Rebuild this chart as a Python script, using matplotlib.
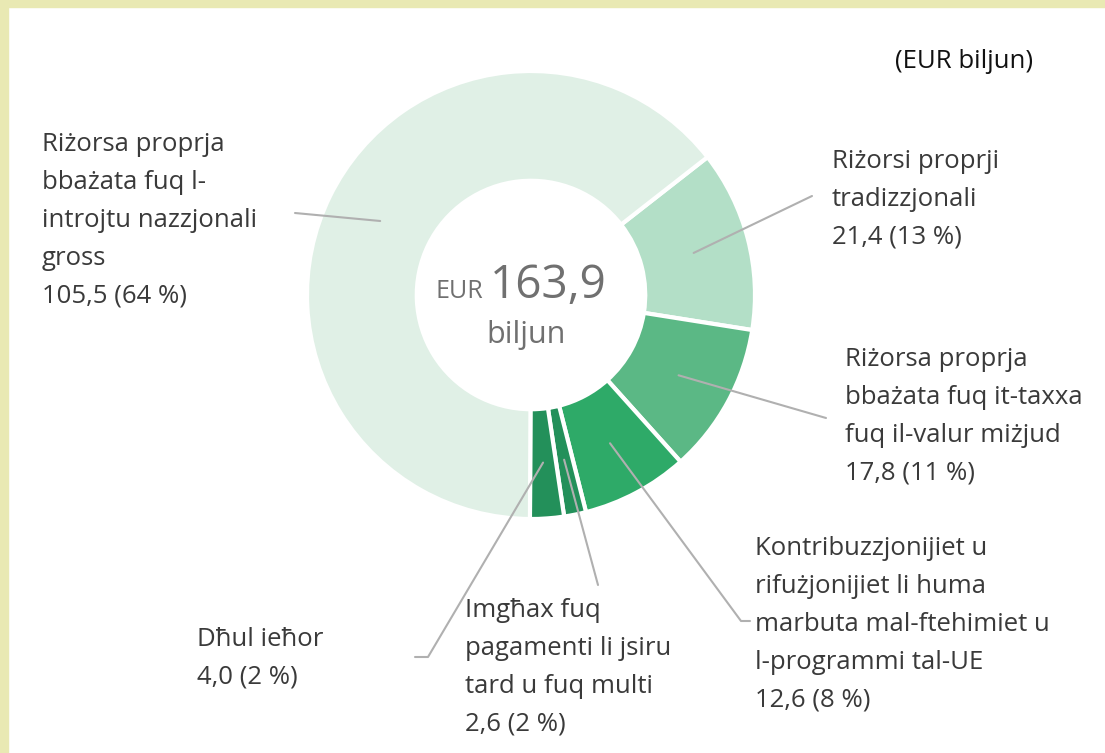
import numpy as np
import matplotlib
matplotlib.use("Agg")
import matplotlib.pyplot as plt
from matplotlib.patches import Rectangle

plt.rcParams['font.family'] = ['Open Sans', 'DejaVu Sans']

# data (EUR billion)
labels = [
    "Riżorsi proprji\ntradizzjonali\n21,4 (13 %)",
    "Riżorsa proprja\nbbażata fuq it-taxxa\nfuq il-valur miżjud\n17,8 (11 %)",
    "Kontribuzzjonijiet u\nrifużjonijiet li huma\nmarbuta mal-ftehimiet u\nl-programmi tal-UE\n12,6 (8 %)",
    "Imgħax fuq\npagamenti li jsiru\ntard u fuq multi\n2,6 (2 %)",
    "Dħul ieħor\n4,0 (2 %)",
    "Riżorsa proprja\nbbażata fuq l-\nintrojtu nazzjonali\ngross\n105,5 (64 %)",
]
values = [21.4, 17.8, 12.6, 2.6, 4.0, 105.5]
colors = ["#b3dfc7", "#5bb885", "#2eaa68", "#23905a", "#23905a", "#e0f0e6"]
total_text = "163,9"

W, H = 1105, 753
cx, cy, R = 531, 295, 224

fig = plt.figure(figsize=(W / 100, H / 100), dpi=100)

# frame bands
fig.patches.append(Rectangle((0, 1 - 7 / H), 1, 7 / H, transform=fig.transFigure,
                             color="#e9e9b3", zorder=0))
fig.patches.append(Rectangle((0, 0), 8 / W, 1, transform=fig.transFigure,
                             color="#e9e9b3", zorder=0))

ax = fig.add_axes([(cx - R) / W, (H - cy - R) / H, 2 * R / W, 2 * R / H])
wedges, _ = ax.pie(values, colors=colors, startangle=38, counterclock=False,
                   radius=1, wedgeprops=dict(width=0.49, edgecolor="white", linewidth=3))
ax.set_xlim(-1, 1)
ax.set_ylim(-1, 1)
ax.set_aspect("equal")
ax.axis("off")

def to_data(px, py):
    return (px - cx) / R, (cy - py) / R

# leader line ends (pixel coords) and text anchor positions
ends = [
    [(812, 196)],
    [(826, 418)],
    [(741, 621), (750, 621)],
    [(598, 585)],
    [(428, 657), (415, 657)],
    [(295, 213)],
]
text_pos = [(832, 149), (845, 347), (755, 536), (465, 598), (197, 627), (42, 132)]

for w, e, lab, tp in zip(wedges, ends, labels, text_pos):
    ang = np.deg2rad((w.theta1 + w.theta2) / 2)
    r0 = 0.75
    xs = [r0 * np.cos(ang)]
    ys = [r0 * np.sin(ang)]
    for px, py in e:
        dx, dy = to_data(px, py)
        xs.append(dx)
        ys.append(dy)
    ax.plot(xs, ys, color="#b0b0b0", lw=1.5, clip_on=False, solid_capstyle="round")
    fig.text(tp[0] / W, 1 - tp[1] / H, lab, ha="left", va="top", fontsize=18.5,
             color="#3a3a3a", linespacing=1.68)

fig.text(1033 / W, 1 - 62 / H, "(EUR biljun)", ha="right", va="center",
         fontsize=18.5, color="#111111")

# centre label
fig.text(483 / W, 1 - 298 / H, "EUR", ha="right", va="baseline", fontsize=18, color="#707070")
fig.text(490 / W, 1 - 298 / H, total_text, ha="left", va="baseline", fontsize=33, color="#707070")
fig.text(526 / W, 1 - 343 / H, "biljun", ha="center", va="baseline", fontsize=22, color="#707070")

fig.savefig("out.png", dpi=100)
